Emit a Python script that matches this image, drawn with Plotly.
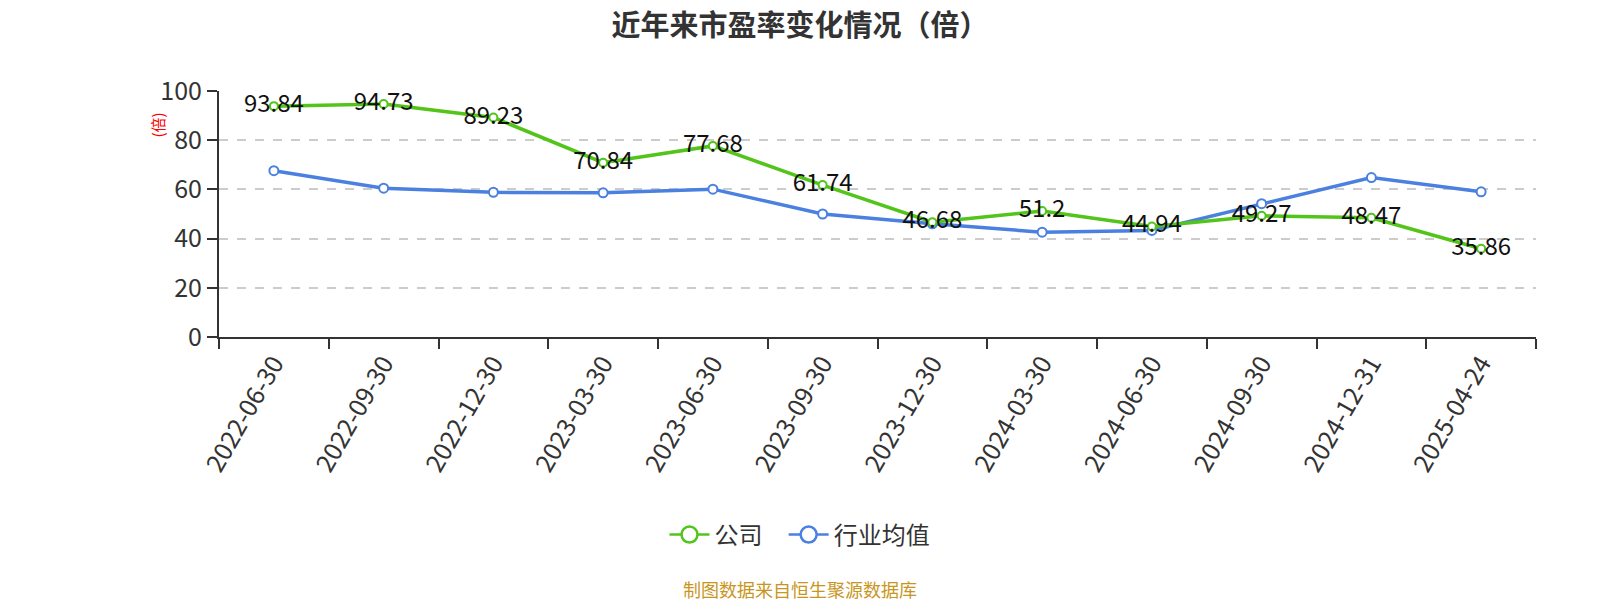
import plotly.graph_objects as go

dates = ["2022-06-30", "2022-09-30", "2022-12-30", "2023-03-30", "2023-06-30", "2023-09-30",
         "2023-12-30", "2024-03-30", "2024-06-30", "2024-09-30", "2024-12-31", "2025-04-24"]
company = [93.84, 94.73, 89.23, 70.84, 77.68, 61.74, 46.68, 51.2, 44.94, 49.27, 48.47, 35.86]
industry = [67.6, 60.5, 58.8, 58.6, 60.1, 50.0, 46.0, 42.6, 43.3, 54.2, 64.8, 59.0]
company_labels = ["93.84", "94.73", "89.23", "70.84", "77.68", "61.74", "46.68", "51.2", "44.94", "49.27", "48.47", "35.86"]

GREEN = "#52c41a"
BLUE = "#4a80e0"
FONT = "Noto Sans CJK SC"

W, H = 1600, 600
L, R, T, B = 211, 72, 83, 271
PW, PH = W - L - R, H - T - B

fig = go.Figure()
fig.add_trace(go.Scatter(
    x=dates, y=industry, name="行业均值", mode="lines+markers", showlegend=False,
    legendgroup="ind",
    line=dict(color=BLUE, width=3.5),
    marker=dict(symbol="circle", size=9, color="white", line=dict(color=BLUE, width=2)),
))
fig.add_trace(go.Scatter(
    x=dates, y=company, name="公司", mode="lines+markers+text", showlegend=False,
    legendgroup="co",
    line=dict(color=GREEN, width=3.5),
    marker=dict(symbol="circle", size=8, color="white", line=dict(color=GREEN, width=2)),
    text=company_labels, textposition="middle center",
    textfont=dict(size=24, color="#111111", family=FONT),
))
# legend entries
fig.add_trace(go.Scatter(
    x=[None], y=[None], name="公司&nbsp;&nbsp;&nbsp;", mode="lines+markers", legendgroup="co",
    line=dict(color=GREEN, width=2.5),
    marker=dict(symbol="circle", size=20, color="white", line=dict(color=GREEN, width=2.5)),
))
fig.add_trace(go.Scatter(
    x=[None], y=[None], name="行业均值", mode="lines+markers", legendgroup="ind",
    line=dict(color=BLUE, width=2.5),
    marker=dict(symbol="circle", size=20, color="white", line=dict(color=BLUE, width=2.5)),
))

cx = 792  # horizontal centre of the page content in figure pixels

fig.update_layout(
    width=W, height=H,
    paper_bgcolor="white", plot_bgcolor="white",
    font=dict(family=FONT, color="#333333"),
    margin=dict(l=L, r=R, t=T, b=B),
    title=dict(text="<b>近年来市盈率变化情况（倍）</b>", x=cx / W, xanchor="center",
               y=1 - 18 / H, yanchor="middle", font=dict(size=29, color="#333333", family=FONT)),
    showlegend=True,
    legend=dict(orientation="h", xref="container", yref="container",
                x=cx / W, xanchor="center", y=1 - 527 / H, yanchor="middle",
                font=dict(size=24, color="#333333", family=FONT),
                itemsizing="trace", itemwidth=40, traceorder="normal"),
    xaxis=dict(
        type="category", tickangle=-60, tickson="boundaries",
        showline=True, linecolor="#333333", linewidth=2,
        ticks="outside", ticklen=10, tickwidth=2, tickcolor="#333333",
        tickfont=dict(size=25, color="#333333", family=FONT),
        showgrid=False, range=[-0.5, 11.5],
    ),
    yaxis=dict(
        range=[0, 100], dtick=20, tick0=0,
        showline=True, linecolor="#333333", linewidth=2,
        ticks="outside", ticklen=10, tickwidth=2, tickcolor="#333333",
        tickfont=dict(size=25, color="#333333", family=FONT),
        showgrid=True, gridcolor="#cccccc", griddash="dash", gridwidth=1.5,
        zeroline=False,
    ),
    annotations=[
        dict(text="(倍)", textangle=-90, xref="paper", yref="paper",
             x=(148.5 - L) / PW, y=(T + PH - 117) / PH,
             xanchor="center", yanchor="middle", showarrow=False,
             font=dict(size=15, color="red", family=FONT)),
        dict(text="制图数据来自恒生聚源数据库", xref="paper", yref="paper",
             x=(cx - L) / PW, y=(T + PH - 581) / PH,
             xanchor="center", yanchor="middle", showarrow=False,
             font=dict(size=18, color="#c8961e", family=FONT)),
    ],
)

fig.write_html("out.html")
